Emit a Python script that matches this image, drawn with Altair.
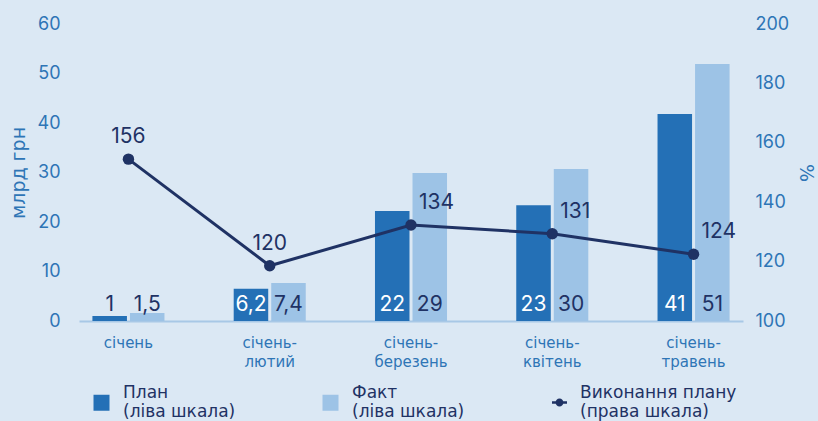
import altair as alt
import pandas as pd

categories = ["січень", "січень-лютий", "січень-березень", "січень-квітень", "січень-травень"]
plan_values = [1.0, 6.5, 22.2, 23.4, 41.8]
fact_values = [1.6, 7.7, 29.9, 30.7, 51.9]
plan_labels = ["1", "6,2", "22", "23", "41"]
fact_labels = ["1,5", "7,4", "29", "30", "51"]
execution_values = [154.5, 118.6, 132.3, 129.4, 122.5]
execution_labels = ["156", "120", "134", "131", "124"]
series_names = ["План|(ліва шкала)", "Факт|(ліва шкала)"]
line_name = "Виконання плану|(права шкала)"

NAVY = "#1f3264"
BLUE_TXT = "#2e75b6"
PLAN_C = "#2470b6"
FACT_C = "#9dc3e6"
BG = "#dbe8f4"
NUM_FONT = "Inter"
TXT_FONT = "DejaVu Sans"

rows = []
for i, c in enumerate(categories):
    rows.append({"category": c, "series": series_names[0], "value": plan_values[i], "label": plan_labels[i]})
    rows.append({"category": c, "series": series_names[1], "value": fact_values[i], "label": fact_labels[i]})
bars_df = pd.DataFrame(rows)

line_df = pd.DataFrame({
    "category": categories,
    "pct": execution_values,
    "label": execution_labels,
    "name": [line_name] * len(categories),
    "idx": list(range(len(categories))),
})

x_scale = alt.Scale(paddingInner=0.49, paddingOuter=0.095)
x_axis = alt.Axis(
    title=None, labelAngle=0, ticks=False, domainColor="#a8c8e6", domainWidth=2,
    labelColor=BLUE_TXT, labelFont=TXT_FONT, labelFontSize=15, labelPadding=14, labelLineHeight=19,
    labelExpr="datum.label == 'січень' ? 'січень' : ['січень-', replace(datum.label, 'січень-', '')]",
)
xo = alt.XOffset("series:N", sort=series_names, scale=alt.Scale(paddingInner=0.08, paddingOuter=0))

y_left = alt.Scale(domain=[0, 60], nice=False)
y_right = alt.Scale(domain=[100, 200], nice=False)
y_left_axis = alt.Axis(
    values=[0, 10, 20, 30, 40, 50, 60], domain=False, ticks=False, grid=False,
    labelColor=BLUE_TXT, labelFont=NUM_FONT, labelFontSize=18, labelPadding=19,
    title="млрд грн", titleColor=BLUE_TXT, titleFont=TXT_FONT, titleFontSize=19,
    titleFontWeight="normal", titlePadding=9)
y_right_axis = alt.Axis(
    orient="right", values=[100, 120, 140, 160, 180, 200], domain=False, ticks=False, grid=False,
    labelColor=BLUE_TXT, labelFont=NUM_FONT, labelFontSize=18, labelPadding=12,
    title="%", titleColor=BLUE_TXT, titleFont=TXT_FONT, titleFontSize=19,
    titleFontWeight="normal", titlePadding=7)

X = alt.X("category:N", sort=categories, scale=x_scale, axis=x_axis)

# custom legend symbols (unit box -1..1), drawn a little lower than the first label line
SQUARE_DOWN = "M-1,0.25H1V2.25H-1Z"
LINE_DOWN = ("M-1,1.16H1V1.5H-1Z"
             "M-0.53,1.33A0.53,0.53,0,1,1,0.53,1.33A0.53,0.53,0,1,1,-0.53,1.33Z")

bars = alt.Chart(bars_df).mark_bar().encode(
    x=X,
    xOffset=xo,
    y=alt.Y("value:Q", scale=y_left, axis=y_left_axis),
    color=alt.Color("series:N", sort=series_names, scale=alt.Scale(domain=series_names, range=[PLAN_C, FACT_C]),
                    legend=alt.Legend(
                        orient="none", legendX=14, legendY=360, direction="horizontal", columns=2,
                        columnPadding=86, title=None, symbolType=SQUARE_DOWN, symbolSize=256,
                        symbolStrokeWidth=0, labelOffset=13, labelFont=TXT_FONT, labelFontSize=17,
                        labelColor=NAVY, labelLimit=400, labelBaseline="middle",
                        labelExpr="split(datum.label, '|')")),
)

bar_text = alt.Chart(bars_df).transform_calculate(zero="0").mark_text(
    font=NUM_FONT, fontSize=21, baseline="alphabetic", dy=-10).encode(
    x=X,
    xOffset=xo,
    y=alt.Y("zero:Q", scale=y_left, axis=y_left_axis),
    text="label:N",
    color=alt.condition(
        f"datum.series == '{series_names[0]}' && datum.value > 3",
        alt.value("white"), alt.value(NAVY)),
)

left = alt.layer(bars, bar_text)

line = alt.Chart(line_df).mark_line(strokeWidth=3, point=alt.OverlayMarkDef(size=130, filled=True, opacity=1)).encode(
    x=X,
    y=alt.Y("pct:Q", scale=y_right, axis=y_right_axis),
    color=alt.Color("name:N", scale=alt.Scale(domain=[line_name], range=[NAVY]),
                    legend=alt.Legend(
                        orient="none", legendX=472, legendY=360, title=None,
                        symbolType=LINE_DOWN, symbolSize=225, symbolStrokeWidth=0,
                        symbolFillColor=NAVY, symbolStrokeColor=NAVY,
                        labelOffset=12, labelFont=TXT_FONT, labelFontSize=17, labelColor=NAVY,
                        labelLimit=400, labelBaseline="middle", labelExpr="split(datum.label, '|')")),
)

line_text_c = alt.Chart(line_df).transform_filter("datum.idx < 2").mark_text(
    font=NUM_FONT, fontSize=21, color=NAVY, baseline="middle", align="center", dy=-22).encode(
    x=X,
    y=alt.Y("pct:Q", scale=y_right, axis=y_right_axis),
    text="label:N",
)
line_text_r = alt.Chart(line_df).transform_filter("datum.idx >= 2").mark_text(
    font=NUM_FONT, fontSize=21, color=NAVY, baseline="middle", align="left", dx=8, dy=-22).encode(
    x=X,
    y=alt.Y("pct:Q", scale=y_right, axis=y_right_axis),
    text="label:N",
)

right = alt.layer(line, line_text_c, line_text_r)

chart = alt.layer(left, right).resolve_scale(y="independent", color="independent").properties(
    width=664, height=297,
    autosize=alt.AutoSizeParams(type="none"),
    padding={"left": 79, "top": 24, "right": 75, "bottom": 100},
    background=BG,
).configure(font=NUM_FONT).configure_view(stroke=None)

chart.save("out.html", embed_options={"renderer": "svg", "actions": False})
